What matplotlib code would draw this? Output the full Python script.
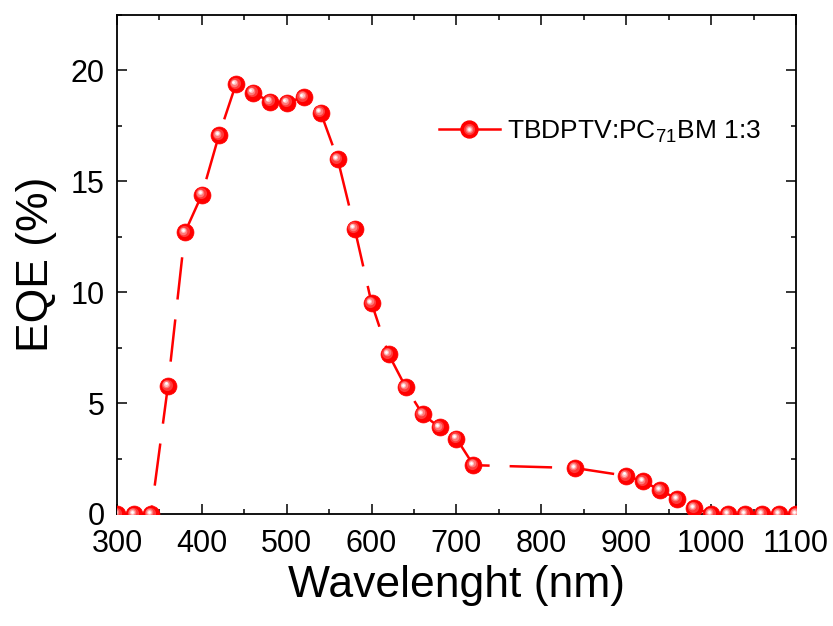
import numpy as np
import matplotlib
matplotlib.use("Agg")
import matplotlib.pyplot as plt
from matplotlib.transforms import offset_copy
from matplotlib.lines import Line2D
from matplotlib.ticker import MultipleLocator

plt.rcParams['font.family'] = ['Liberation Sans', 'DejaVu Sans']
plt.rcParams['mathtext.fontset'] = 'custom'
plt.rcParams['mathtext.rm'] = 'Liberation Sans'

wavelength = [300, 320, 340, 360, 380, 400, 420, 440, 460, 480, 500, 520, 540,
              560, 580, 600, 620, 640, 660, 680, 700, 720, 840, 900, 920, 940,
              960, 980, 1000, 1020, 1040, 1060, 1080, 1100]
eqe = [0.0, 0.0, 0.0, 5.78, 12.7, 14.4, 17.07, 19.37, 19.0, 18.6, 18.55, 18.8,
       18.1, 16.0, 12.87, 9.5, 7.2, 5.73, 4.5, 3.9, 3.4, 2.2, 2.07, 1.72, 1.47,
       1.07, 0.68, 0.27, 0.0, 0.0, 0.0, 0.0, 0.0, 0.0]
label = r'TBDPTV:PC$_{\mathregular{71}}$BM 1:3'

red = '#ff0000'
fig = plt.figure(figsize=(8.33, 6.26), dpi=100)
ax = fig.add_axes([0.1405, 0.179, 0.815, 0.797])

# dashed connecting line
line, = ax.plot(wavelength, eqe, color=red, lw=1.8, dashes=(17, 8), zorder=2)

# sphere-like markers: red base plus lighter highlight layers offset up-left
ax.plot(wavelength, eqe, ls='none', marker='o', ms=12.2, mfc=red, mec=red,
        mew=0.5, zorder=3)
layers = [(8.0, '#ff3a3a', 0.9), (5.5, '#ff7a7a', 1.3), (3.6, '#ffc0c0', 1.6),
          (2.0, '#ffffff', 1.7)]
for ms, col, off in layers:
    tr = offset_copy(ax.transData, fig=fig, x=-off, y=off, units='points')
    ax.plot(wavelength, eqe, ls='none', marker='o', ms=ms, mfc=col, mec='none',
            transform=tr, zorder=4)

ax.set_xlim(300, 1100)
ax.set_ylim(0, 22.5)
ax.xaxis.set_major_locator(MultipleLocator(100))
ax.xaxis.set_minor_locator(MultipleLocator(50))
ax.yaxis.set_major_locator(MultipleLocator(5))
ax.yaxis.set_minor_locator(MultipleLocator(2.5))
ax.tick_params(which='both', direction='in', top=True, right=True, width=1.1)
ax.tick_params(which='major', length=7.2, labelsize=22)
ax.tick_params(axis='x', which='major', pad=11)
ax.tick_params(axis='y', which='major', pad=9)
ax.tick_params(which='minor', length=3.6)
for sp in ax.spines.values():
    sp.set_linewidth(1.3)

ax.set_xlabel('Wavelenght (nm)', fontsize=32, labelpad=4)
ax.set_ylabel('EQE (%)', fontsize=32, labelpad=10)

# legend handle: solid line with sphere marker
h_base = Line2D([], [], color=red, lw=1.8, marker='o', ms=12.2, mfc=red, mec=red)
h_hi = [Line2D([], [], ls='none', marker='o', ms=ms, mfc=col, mec='none')
        for ms, col, off in layers]
ax.legend([tuple([h_base] + h_hi)], [label], loc='center left',
          bbox_to_anchor=(0.474, 0.766), frameon=False, fontsize=19,
          handlelength=2.3, handletextpad=0.3, borderpad=0, borderaxespad=0)

fig.savefig('out.png', dpi=100)
